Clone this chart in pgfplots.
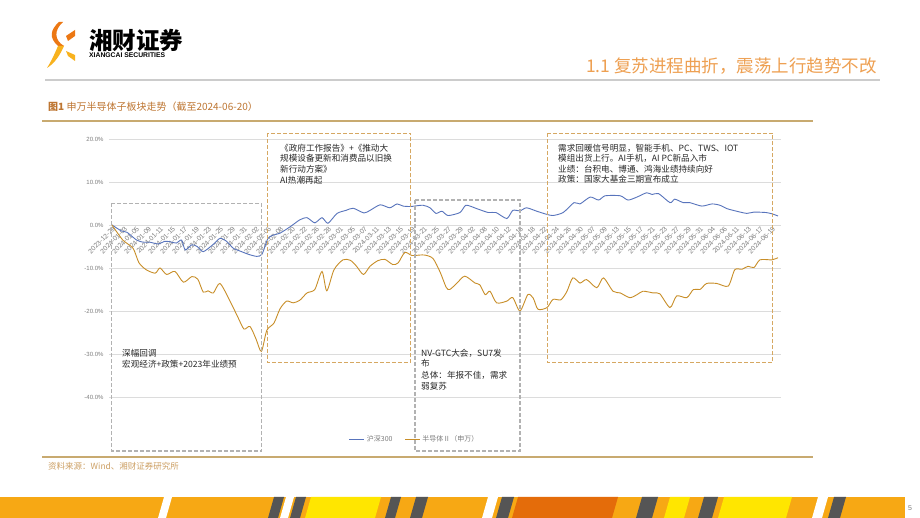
\documentclass[border=0pt]{standalone}
\usepackage{pgfplots}
\pgfplotsset{compat=1.18}
\usepackage{fontspec}
\setmainfont{Liberation Serif}
\newfontfamily\song{Noto Sans CJK SC}
\newfontfamily\hei{Noto Sans CJK SC}
\newfontfamily\arial{Liberation Sans}
\newcommand{\fs}[1]{\fontsize{#1}{#1}\selectfont}
\definecolor{blueL}{RGB}{88,116,188}
\definecolor{orangeL}{RGB}{200,142,40}
\definecolor{grayBox}{RGB}{178,178,178}
\definecolor{orangeBox}{RGB}{214,168,98}
\definecolor{goldLine}{RGB}{200,170,112}
\definecolor{titleO}{RGB}{238,160,82}
\definecolor{capC}{RGB}{190,118,50}
\definecolor{srcC}{RGB}{205,160,100}
\definecolor{txt}{RGB}{40,40,40}
\definecolor{tickC}{RGB}{125,125,125}
\definecolor{gridC}{RGB}{220,220,220}
\definecolor{logoO}{RGB}{236,120,20}
\definecolor{logoY}{RGB}{248,178,30}
\definecolor{stO}{RGB}{247,168,20}
\definecolor{stY}{RGB}{255,230,0}
\definecolor{stG}{RGB}{85,85,85}
\definecolor{stD}{RGB}{228,108,10}
\newcommand{\stripe}[3]{\fill[#1] (#2,518) -- (#2+6,497) -- (#3+6,497) -- (#3,518) -- cycle;}
\begin{document}
\begin{tikzpicture}
\fill[white] (0pt,0pt) rectangle (920pt,518pt);
\begin{axis}[
  at={(109pt,121pt)}, anchor=south west,
  width=672pt, height=258pt, scale only axis,
  xmin=-0.5, xmax=111.5, ymin=-40, ymax=20,
  axis x line=middle, axis y line=left,
  axis line style={-, draw=gridC},
  y axis line style={draw=none},
  major tick length=0pt,
  ytick={-40,-30,-20,-10,0,10,20},
  ymajorgrids, grid style={gridC, line width=0.6pt},
  /pgf/number format/assume math mode=true,
  yticklabel={\pgfmathprintnumber[fixed,fixed zerofill,precision=1]{\tick}\%},
  yticklabel style={font=\arial\fs{6}, text=tickC, xshift=-2pt},
  xtick={0,2,...,110},
  xticklabels={2023-12-29,2024-01-03,2024-01-05,2024-01-09,2024-01-11,2024-01-15,2024-01-17,2024-01-19,2024-01-23,2024-01-25,2024-01-29,2024-01-31,2024-02-02,2024-02-06,2024-02-08,2024-02-20,2024-02-22,2024-02-26,2024-02-28,2024-03-01,2024-03-05,2024-03-07,2024-03-11,2024-03-13,2024-03-15,2024-03-19,2024-03-21,2024-03-25,2024-03-27,2024-03-29,2024-04-02,2024-04-08,2024-04-10,2024-04-12,2024-04-16,2024-04-18,2024-04-22,2024-04-24,2024-04-26,2024-04-30,2024-05-07,2024-05-09,2024-05-13,2024-05-15,2024-05-17,2024-05-21,2024-05-23,2024-05-27,2024-05-29,2024-05-31,2024-06-04,2024-06-06,2024-06-11,2024-06-13,2024-06-17,2024-06-19},
  xticklabel style={rotate=45, anchor=east, xshift=0pt, yshift=-3.5pt, inner sep=0.5pt, font=\arial\fs{6.8}, text=tickC},
  legend style={at={(0.455,-0.163)}, anchor=center, draw=none, fill=none,
    legend columns=2, font=\song\fs{7}, text=tickC,
    /tikz/every even column/.append style={column sep=10pt}},
  legend image code/.code={\draw[#1] (0pt,0pt) -- (15pt,0pt);},
  legend cell align=left,
]
\addplot[blueL, line width=0.9pt, smooth, tension=0.4] coordinates {
(0,0) (1.6,-1.4) (2.5,-1.7) (4.1,-3.5) (5.2,-4.0) (6.3,-4.0) (7.7,-4.4) (8.8,-3.8)
(9.7,-3.9) (10.7,-4.2) (11.6,-3.5) (12.2,-5.8) (13.3,-4.6) (14.2,-5.0) (15.2,-6.2)
(16.8,-4.6) (18,-3.1) (19.1,-3.8) (20.2,-5.4) (21.6,-6.2) (22.7,-6.8) (24.1,-7.3)
(25,-6.8) (26,-3.1) (27,-2.3) (28,-1.9) (29.7,-0.4) (31.3,1.2) (32.5,1.7) (33.8,0.5)
(35,1.7) (36,0.4) (37.5,2.7) (39,3.4) (40.2,3.9) (42,2.8) (43,3.4) (44.7,4.7)
(46.3,4.0) (47.5,4.9) (48.5,4.4) (49.8,4.3) (51.8,4.6) (53,4.0) (54,2.7) (55,3.2)
(56,2.2) (58,2.9) (59,4.6) (60.8,3.8) (62.7,2.9) (64,2.9) (65.8,1.5) (66.8,3.4)
(68,3.3) (69.1,4.0) (70.8,3.2) (72.4,2.5) (73.5,2.2) (75.2,2.9) (77,5.2)
(78,4.9) (79.7,6.5) (81.1,5.8) (82.2,6.8) (84.7,6.8) (86,5.8) (87.5,6.5) (89.1,7.5)
(90,7.1) (91.1,7.3) (93,5.2) (93.8,6.0) (95.2,5.2) (96.3,5.2) (98.3,4.4) (100,4.9)
(101.3,4.6) (102.5,3.8) (104.1,3.2) (105.8,2.7) (107,3.0) (109,2.9) (110,2.6) (111,2.1)
};
\addlegendentry{沪深300}
\addplot[orangeL, line width=0.9pt, smooth, tension=0.45] coordinates {
(0,0) (1.8,-3.5) (3.5,-5.4) (4.5,-8.8) (5.7,-10.4) (7.2,-11.2) (8,-10.0) (9.1,-11.5)
(10.5,-10.8) (11.9,-13.3) (13.3,-12.0) (14.3,-12.6) (15.2,-15.6) (16,-15.3) (16.9,-15.8)
(18,-13.6) (19.7,-17.8) (21,-21.5) (22,-24.2) (23,-23.6) (24,-26.5) (24.9,-29.4)
(25.8,-24.5) (27,-22.8) (28,-19.5) (29.1,-17.7) (30.2,-18.1) (31.3,-17.5) (32.5,-15.8)
(33.8,-15.0) (35,-10.8) (35.8,-15.3) (37,-10.4) (38.5,-8.1) (39.7,-8.2) (40.7,-9.5)
(41.9,-11.5) (43,-9.6) (44.3,-8.3) (45.5,-8.0) (46.8,-9.2) (47.7,-8.8) (48.8,-6.4)
(50,-7.1) (51.2,-7.0) (52.2,-7.0) (53.5,-7.8) (54.7,-11.0) (55.7,-14.5) (56.3,-15.0)
(57.5,-13.5) (58.8,-11.9) (60.5,-13.5) (61.3,-13.9) (62.2,-16.2) (63,-15.4) (64.1,-18.1)
(65.8,-17.7) (66.8,-16.9) (68,-20.0) (69.3,-16.2) (70.2,-17.0) (71,-19.6) (72.5,-19.2)
(73.5,-17.3) (74.8,-17.4) (75.8,-15.5) (76.8,-12.3) (78,-13.5) (79.1,-12.7) (80.8,-14.6)
(81.9,-12.3) (83.5,-15.4) (84.7,-15.8) (86.3,-16.9) (87.5,-16.2) (88.5,-15.4) (90.2,-15.8)
(91.3,-16.0) (93,-19.2) (94.1,-16.5) (95.8,-16.9) (96.9,-15.0) (98,-15.0) (99.1,-13.6)
(100.8,-13.6) (102.7,-14.2) (103.8,-10.4) (105,-10.3) (106,-9.6) (107,-9.9) (108,-8.1)
(110,-8.1) (111,-7.6)
};
\addlegendentry{半导体Ⅱ（申万）}
\end{axis}
\begin{scope}[shift={(0pt,518pt)}, x=1pt, y=-1pt]
  % header
  \fill[logoO] (63,22) .. controls (54,30) and (54,40) .. (64,46) -- (58,46) .. controls (49,38) and (50,30) .. (59,22) -- cycle;
  \fill[logoY] (58,46) -- (64,46) .. controls (60,55) and (55,63) .. (47,68) .. controls (52,60) and (55,53) .. (58,46) -- cycle;
  \fill[logoO] (66,36) -- (75,30) -- (75,36) -- (68,41) -- cycle;
  \fill[logoY] (66,51) -- (75,55) -- (75,61) -- (68,56) -- cycle;
  \node[anchor=west, inner sep=0pt, font=\hei\bfseries\fs{23.5}] at (89,40) {湘财证券};
  \node[anchor=west, inner sep=0pt, font=\arial\bfseries\fs{6.8}] at (89,55.5) {XIANGCAI SECURITIES};
  \node[anchor=east, inner sep=0pt, font=\hei\fs{17.5}, text=titleO] at (877,66) {1.1 复苏进程曲折，震荡上行趋势不改};
  \draw[gray!40, line width=2pt] (45,80) -- (880,80);
  \node[anchor=west, inner sep=0pt, font=\song\fs{10}, text=capC] at (48,107) {\textbf{图1} 申万半导体子板块走势（截至2024-06-20）};
  \draw[goldLine, line width=1.4pt] (42,121) -- (813,121);
  \draw[goldLine, line width=1.4pt] (42,457) -- (813,457);
  \node[anchor=west, inner sep=0pt, font=\song\fs{8.5}, text=srcC] at (48,466) {资料来源：Wind、湘财证券研究所};
  % annotation boxes
  \draw[grayBox, line width=1.1pt, dash pattern=on 4pt off 2pt] (111.7,203.3) rectangle (261.7,451);
  \draw[orangeBox, line width=1.1pt, dash pattern=on 4pt off 2pt] (267.3,133.3) rectangle (410.7,362.7);
  \draw[grayBox, line width=1.1pt, dash pattern=on 4pt off 2pt] (415,200) rectangle (520,451);
  \draw[orangeBox, line width=1.1pt, dash pattern=on 4pt off 2pt] (547.7,133.3) rectangle (772.7,362.7);
  \begin{scope}[every node/.style={anchor=west, inner sep=0pt, font=\song\fs{8.6}, text=txt}]
    \node at (280,148) {《政府工作报告》+《推动大};
    \node at (280,158.5) {规模设备更新和消费品以旧换};
    \node at (280,169) {新行动方案》};
    \node at (280,180) {AI热潮再起};
    \node at (122,353) {深幅回调};
    \node at (122,364) {宏观经济+政策+2023年业绩预};
    \node at (421,353) {NV-GTC大会，SU7发};
    \node at (421,363.5) {布};
    \node at (421,375) {总体：年报不佳，需求};
    \node at (421,386) {弱复苏};
    \node at (558,148) {需求回暖信号明显，智能手机、PC、TWS、IOT};
    \node at (558,158.5) {模组出货上行。AI手机，AI PC新品入市};
    \node at (558,169) {业绩：台积电、博通、鸿海业绩持续向好};
    \node at (558,179.5) {政策：国家大基金三期宣布成立};
  \end{scope}
  % footer stripe
  \fill[stO] (0,497) rectangle (905,518);
  \stripe{white}{158}{166}
  \stripe{stG}{268}{278}
  \stripe{white}{280}{288}
  \stripe{stG}{290}{300}
  \stripe{stY}{305}{375}
  \stripe{stG}{385}{395}
  \stripe{stG}{410}{422}
  \stripe{white}{482}{492}
  \stripe{stG}{496}{508}
  \stripe{stD}{512}{612}
  \stripe{stG}{636}{652}
  \stripe{stY}{664}{684}
  \stripe{stG}{698}{712}
  \stripe{stY}{718}{786}
  \stripe{white}{812}{822}
  \stripe{stG}{828}{840}
  \node[anchor=center, inner sep=0pt, font=\arial\fs{7}, text=tickC] at (910,508) {5};
\end{scope}
\end{tikzpicture}
\end{document}
